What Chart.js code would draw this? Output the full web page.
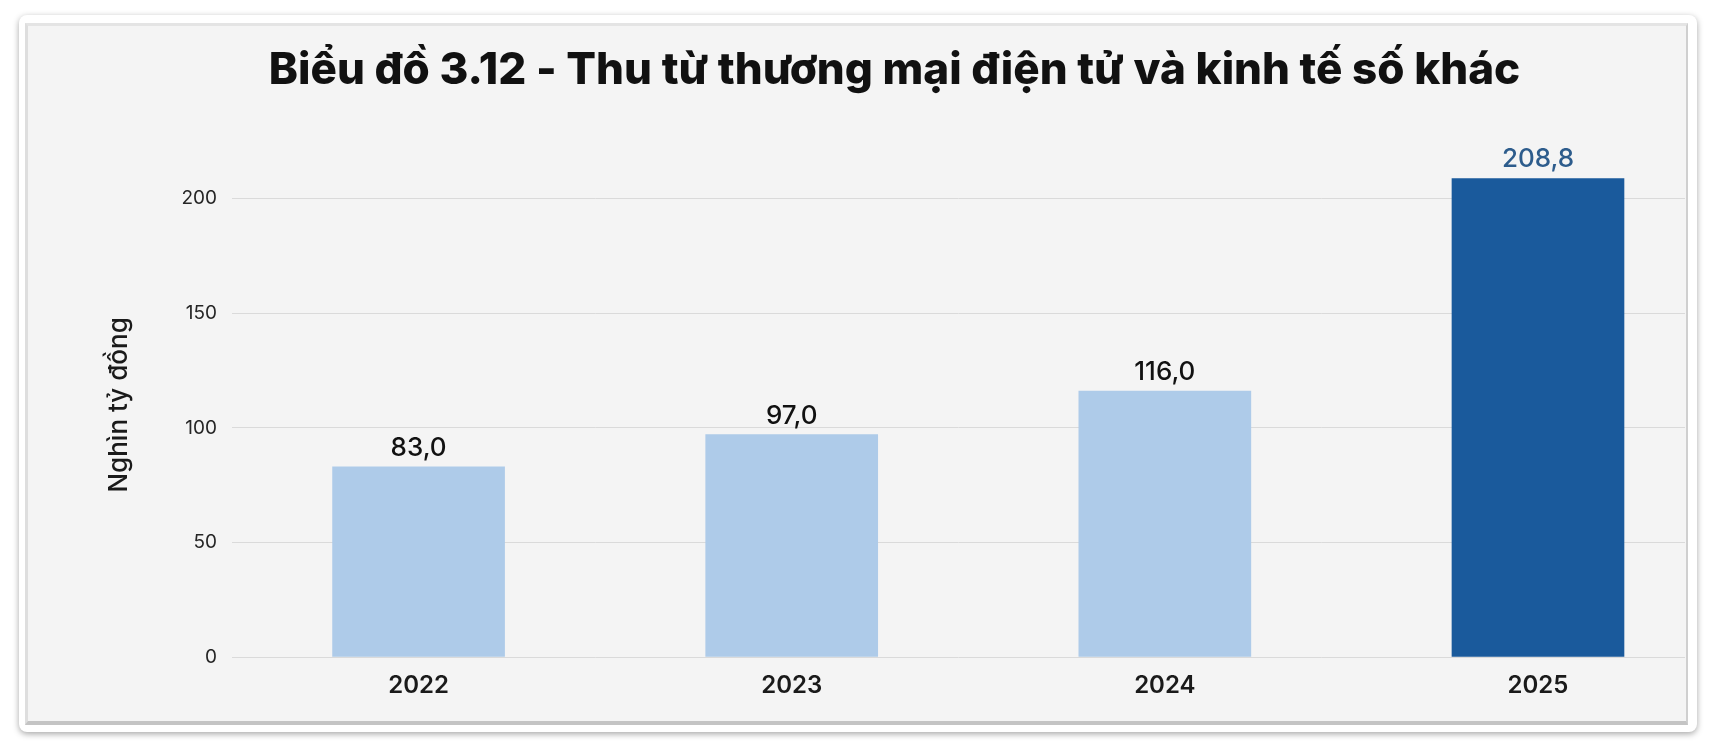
<!DOCTYPE html>
<html>
<head>
<meta charset="utf-8">
<script src="https://cdn.jsdelivr.net/npm/chart.js@4.4.1/dist/chart.umd.min.js"></script>
<style>
    html, body { margin: 0; padding: 0; background: #ffffff; }
    body { width: 1718px; height: 752px; position: relative; overflow: hidden; font-family: Inter, sans-serif; }
    .card {
        position: absolute; left: 19px; top: 15px; width: 1678px; height: 717px;
        background: #ffffff; border-radius: 8px;
        box-shadow: 0 2px 6px rgba(0, 0, 0, 0.35);
    }
    .panel {
        position: absolute; left: 25px; top: 23px; width: 1658px; height: 695px;
        background: #f4f4f4;
        border-left: 3px solid #dedede; border-top: 3px solid #e4e4e4;
        border-right: 2px solid #cfcfcf; border-bottom: 4px solid #c4c4c4;
    }
    .wrap { position: absolute; left: 28px; top: 31px; width: 1657px; height: 690px; }
</style>
</head>
<body>
<div class="card"></div>
<div class="panel"></div>
<div class="wrap"><canvas id="myChart"></canvas></div>
<script>
    // Số liệu
    const years = ['2022', '2023', '2024', '2025'];
    const values = [83.0, 97.0, 116.0, 208.8];
    const yTicks = [0, 50, 100, 150, 200];
    const barColors = ['#aecbe9', '#aecbe9', '#aecbe9', '#1a5a9c'];
    const labelColors = ['#111111', '#111111', '#111111', '#2d5c8c'];

    let ctx = document.getElementById('myChart').getContext('2d');

    // nhãn giá trị trên cột
    const valueLabels = {
        id: 'valueLabels',
        afterDatasetsDraw(chart) {
            let c = chart.ctx;
            let meta = chart.getDatasetMeta(0);
            c.save();
            c.font = '500 26px Inter';
            c.textAlign = 'center';
            c.textBaseline = 'alphabetic';
            meta.data.forEach(function (bar, i) {
                c.fillStyle = labelColors[i];
                c.fillText(values[i].toFixed(1).replace('.', ','), bar.x, bar.y - 11);
            });
            c.restore();
        }
    };

    new Chart(ctx, {
        type: 'bar',
        data: {
            datasets: [{
                data: values.map((v, i) => ({ x: i, y: v })),
                backgroundColor: barColors,
                borderWidth: 0,
                barThickness: 172
            }]
        },
        options: {
            responsive: true,
            maintainAspectRatio: false,
            animation: false,
            layout: { padding: { left: 76, right: 0, top: 0, bottom: 0 } },
            plugins: {
                legend: { display: false },
                tooltip: { enabled: false },
                title: {
                    display: true,
                    text: 'Biểu đồ 3.12 - Thu từ thương mại điện tử và kinh tế số khác',
                    color: '#111111',
                    font: { family: 'Inter', size: 44, weight: '800' },
                    padding: { top: 13, bottom: 56 }
                }
            },
            scales: {
                x: {
                    type: 'linear',
                    offset: false,
                    min: -0.5,
                    max: 3.394,
                    grid: { display: false, offset: false },
                    border: { display: false },
                    afterBuildTicks: axis => { axis.ticks = years.map((y, i) => ({ value: i })); },
                    afterFit: axis => { axis.height = 64; },
                    ticks: {
                        padding: 6,
                        color: '#1a1a1a',
                        font: { family: 'Inter', size: 24, weight: '600' },
                        callback: v => years[v]
                    }
                },
                y: {
                    min: 0,
                    max: 220,
                    afterBuildTicks: axis => { axis.ticks = yTicks.map(v => ({ value: v })); },
                    afterFit: axis => { axis.width = 128; },
                    grid: { color: '#dadada', lineWidth: 1, drawTicks: false },
                    border: { display: false },
                    ticks: {
                        padding: 15,
                        color: '#262626',
                        font: { family: 'Inter', size: 19 }
                    },
                    title: {
                        display: true,
                        text: 'Nghìn tỷ đồng',
                        color: '#1a1a1a',
                        font: { family: 'Inter', size: 26, weight: '500' },
                        padding: { top: 0, bottom: 0 }
                    }
                }
            }
        },
        plugins: [valueLabels]
    });
</script>
</body>
</html>
